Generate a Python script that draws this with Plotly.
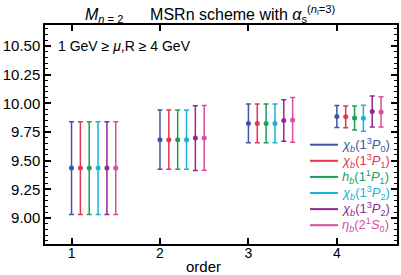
import plotly.graph_objects as go

orders = [1, 2, 3, 4]
names = [
    '<i>χ<sub>b</sub></i>(1<sup>3</sup><i>P</i><sub>0</sub>)',
    '<i>χ<sub>b</sub></i>(1<sup>3</sup><i>P</i><sub>1</sub>)',
    '<i>h<sub>b</sub></i>(1<sup>1</sup><i>P</i><sub>1</sub>)',
    '<i>χ<sub>b</sub></i>(1<sup>3</sup><i>P</i><sub>2</sub>)',
    '<i>χ<sub>b</sub></i>(1<sup>3</sup><i>P</i><sub>2</sub>)',
    '<i>η<sub>b</sub></i>(2<sup>1</sup><i>S</i><sub>0</sub>)',
]
colors = ['#4055a8', '#e8334f', '#1a9e5a', '#19b3d3', '#8e2a91', '#d64fa0']
offsets = [0.0, 0.1, 0.2, 0.3, 0.4, 0.5]

# central values per state (rows) for orders 1..4
values = [
    [9.435, 9.683, 9.825, 9.885],
    [9.435, 9.683, 9.825, 9.882],
    [9.435, 9.683, 9.825, 9.872],
    [9.435, 9.683, 9.825, 9.870],
    [9.435, 9.697, 9.850, 9.928],
    [9.435, 9.698, 9.855, 9.925],
]
errors = [
    [0.405, 0.258, 0.170, 0.095],
    [0.405, 0.258, 0.170, 0.095],
    [0.405, 0.258, 0.170, 0.105],
    [0.405, 0.258, 0.170, 0.113],
    [0.405, 0.282, 0.180, 0.135],
    [0.405, 0.282, 0.195, 0.132],
]

yticks = [9.00, 9.25, 9.50, 9.75, 10.00, 10.25, 10.50]

W, H = 401, 275
ML, MR, MT, MB = 45, 4, 25, 31
PW, PH = W - ML - MR, H - MT - MB

def px_x(p):
    return (p - ML) / PW

def px_y(p):
    return (H - MB - p) / PH

fig = go.Figure()
for i in range(6):
    fig.add_trace(go.Scatter(
        x=[o + offsets[i] for o in orders], y=values[i],
        mode='markers',
        marker=dict(color=colors[i], size=5),
        error_y=dict(type='data', array=errors[i], visible=True,
                     color=colors[i], thickness=1.5, width=2.5),
        name=names[i],
        showlegend=False,
    ))

# legend drawn as line samples + coloured labels
annotations = [
    dict(text='1 GeV ≥ <i>μ</i>,R ≥ 4 GeV', xref='paper', yref='paper',
         x=px_x(56), y=px_y(46), xanchor='left', yanchor='middle',
         showarrow=False, font=dict(size=14)),
    dict(text='order', xref='paper', yref='paper',
         x=px_x(203), y=px_y(266), xanchor='center', yanchor='middle',
         showarrow=False, font=dict(size=15)),
]
shapes = []
for i in range(6):
    yy = px_y(144.7 + 16.1 * i)
    shapes.append(dict(type='line', xref='paper', yref='paper',
                       x0=px_x(310), x1=px_x(338), y0=yy, y1=yy,
                       line=dict(color=colors[i], width=2)))
    annotations.append(dict(text=names[i], xref='paper', yref='paper',
                            x=px_x(340), y=yy, xanchor='left', yanchor='middle',
                            showarrow=False, font=dict(size=13, color=colors[i])))

fig.update_layout(
    width=W, height=H,
    margin=dict(l=ML, r=MR, t=MT, b=MB, autoexpand=False),
    paper_bgcolor='white', plot_bgcolor='white',
    font=dict(family='Liberation Sans, Arial, sans-serif', size=14, color='black'),
    title=dict(
        text='<i>M</i><sub><i>n</i> = 2</sub>&nbsp;&nbsp;&nbsp;&nbsp;&nbsp; MSRn scheme with <i>α</i><sub>s</sub><sup>(<i>n</i><sub>l</sub>=3)</sup>',
        x=0.469, xref='paper', xanchor='center',
        y=1 - 14 / 275, yref='container', yanchor='middle',
        font=dict(size=16),
    ),
    showlegend=False,
    annotations=annotations,
    shapes=shapes,
)
fig.update_xaxes(
    range=[0.7, 4.68], tickvals=orders, ticktext=[str(o) for o in orders],
    ticks='inside', ticklen=6, tickwidth=1.5, tickcolor='black',
    showline=True, linecolor='black', linewidth=1.5, mirror='allticks',
    showgrid=False, zeroline=False, automargin=False,
    tickfont=dict(size=14), ticklabelposition='outside', ticklabelstandoff=-5,
)
fig.update_yaxes(
    range=[8.773, 10.683], tickvals=yticks, ticktext=['%.2f' % v for v in yticks],
    ticks='inside', ticklen=6, tickwidth=1.5, tickcolor='black',
    showline=True, linecolor='black', linewidth=1.5, mirror='allticks',
    showgrid=False, zeroline=False, automargin=False,
    tickfont=dict(size=15),
    minor=dict(dtick=0.05, tick0=9.0, ticks='inside', ticklen=3, tickwidth=1, tickcolor='black', showgrid=False),
)

fig.write_html('out.html', config={'displayModeBar': False},
               post_script="document.body.style.margin='0';document.body.style.padding='0';")
